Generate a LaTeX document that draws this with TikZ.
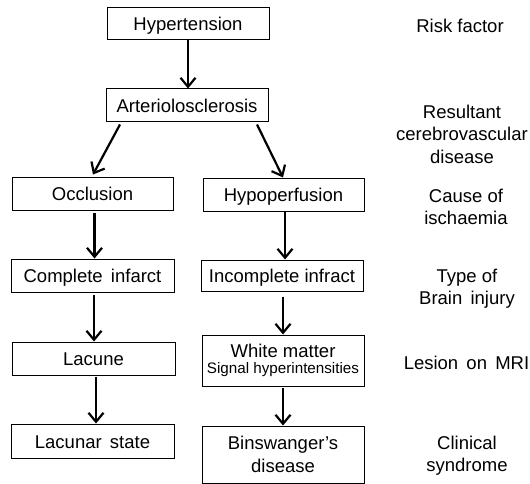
\documentclass[tikz,border=0pt]{standalone}
\usepackage{fontspec}
\setmainfont{Liberation Sans}
\usetikzlibrary{arrows.meta}
\begin{document}
\begin{tikzpicture}[x=1pt,y=-1pt,
  bigfont/.style={font=\fontsize{18.5}{22.5}\selectfont},
  box/.style={draw, line width=1pt, inner sep=0pt, bigfont, minimum width=162pt, text height=14.4pt, text depth=0pt},
  mbox/.style={draw, line width=1pt, inner sep=0pt, bigfont, align=center, minimum width=162pt},
  lab/.style={align=center, inner sep=0pt, bigfont, anchor=north},
  arr/.style={line width=2.2pt, -{Straight Barb[length=9pt,width=15pt,line width=2.2pt]}}]
\useasboundingbox (0,0) rectangle (530,484);
\node[box, minimum height=32pt] (hyp) at (188,23.5) {Hypertension};
\node[box, minimum height=33pt] (art) at (187,105.5) {Arteriolosclerosis};
\node[box, minimum width=161pt, minimum height=33pt] (occ) at (92.5,193.5) {Occlusion};
\node[box, minimum width=161pt, minimum height=33pt] (hpf) at (283.5,194.5) {Hypoperfusion};
\node[box, minimum width=163pt, minimum height=33pt] (com) at (92.5,275.5) {Complete\, infarct};
\node[box, minimum height=31pt] (inc) at (282,275.5) {Incomplete infract};
\node[box, minimum width=163pt, minimum height=33pt] (lac) at (93.5,358.5) {Lacune};
\node[mbox, minimum height=51pt] (wm) at (283,360.5) {White matter\\[-6pt]{\fontsize{15.2}{17}\selectfont Signal hyperintensities}};
\node[box, minimum width=163pt, minimum height=34pt] (ls) at (92.5,441) {Lacunar\, state};
\node[mbox, minimum height=57pt] (bin) at (283,454.5) {Binswanger’s\\disease};
\node[bigfont, inner sep=0pt, anchor=base] (l1) at (460,32.5) {Risk factor};
\node[lab] (l2) at (462,104.5) {Resultant\\cerebrovascular\\disease};
\node[lab] (l3) at (466,188.5) {Cause of\\ischaemia};
\node[lab] (l4) at (467,268.5) {Type of\\Brain\, injury};
\node[bigfont, inner sep=0pt, anchor=base] (l5) at (466.5,369) {Lesion\, on\, MRI};
\node[lab] (l6) at (467,435.5) {Clinical\\syndrome};
\draw[arr] (hyp.south) -- (hyp.south |- art.north);
\draw[arr] ([xshift=-67pt,yshift=-2pt]art.south) -- ([xshift=0.5pt,yshift=2pt]occ.north);
\draw[arr] ([xshift=70pt,yshift=-2pt]art.south) -- ([xshift=-0.5pt]hpf.north);
\coordinate (s4) at ([xshift=2pt,yshift=-2pt]occ.south);
\draw[arr] (s4) -- (s4 |- com.north);
\coordinate (s5) at ([xshift=1.5pt]hpf.south);
\draw[arr] (s5) -- (s5 |- inc.north);
\coordinate (s6) at ([xshift=1.5pt,yshift=-2pt]com.south);
\draw[arr] (s6) -- (s6 |- lac.north);
\coordinate (s7) at ([xshift=1pt,yshift=-5pt]inc.south);
\draw[arr] (s7) -- (s7 |- wm.north);
\coordinate (s8) at ([xshift=2.5pt,yshift=-1pt]lac.south);
\draw[arr] (s8) -- (s8 |- ls.north);
\coordinate (s9) at ([yshift=-1pt]wm.south);
\draw[arr] (s9) -- (s9 |- bin.north);
\end{tikzpicture}
\end{document}
